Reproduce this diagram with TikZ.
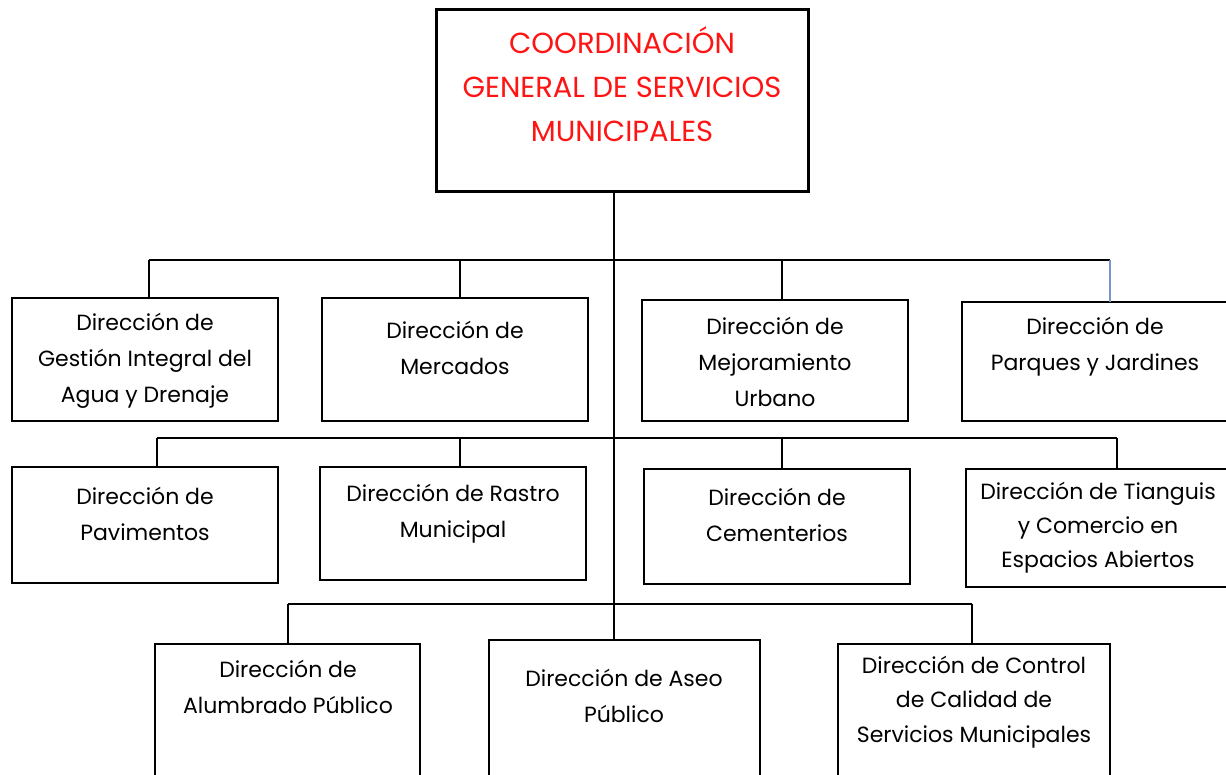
\documentclass[tikz,border=0pt]{standalone}
\usepackage{fontspec}
\setmainfont{Poppins}
\definecolor{rojo}{RGB}{255,20,20}
\definecolor{azulado}{RGB}{120,150,205}
\begin{document}
\begin{tikzpicture}[x=1pt, y=-1pt,
		caja/.style={draw, line width=2.6pt, inner sep=0pt, outer sep=0pt, anchor=north west},
		texto/.style={align=center, inner sep=0pt, font=\fontsize{22}{36}\selectfont},
		enlace/.style={line width=1.1pt}]
			
			\useasboundingbox (0,0) rectangle (1226,775);
			\clip (0,0) rectangle (1226,775);
			
			% coordinacion
			\node[caja, line width=3pt, minimum width=372pt, minimum height=182pt] (coord) at (436,10) {};
			\node[texto, text=rojo, font=\fontsize{29}{44}\selectfont] (coordt) at (622,84.5) {COORDINACIÓN\\GENERAL DE SERVICIOS\\MUNICIPALES};
			
			% primera fila
			\node[caja, minimum width=266pt, minimum height=123pt] (agua) at (12,298) {};
			\node[caja, minimum width=266pt, minimum height=123pt] (mercados) at (322,298) {};
			\node[caja, minimum width=266pt, minimum height=121pt] (mejora) at (642,300) {};
			\node[caja, minimum width=270pt, minimum height=119pt] (parques) at (962,302) {};
			\node[texto] (aguat) at (145,361) {Dirección de\\Gestión Integral del\\Agua y Drenaje};
			\node[texto] (mercadost) at (455,348) {Dirección de\\Mercados};
			\node[texto] (mejorat) at (775,362) {Dirección de\\Mejoramiento\\Urbano};
			\node[texto] (parquest) at (1095,347) {Dirección de\\Parques y Jardines};
			
			% segunda fila
			\node[caja, minimum width=266pt, minimum height=116pt] (pavim) at (12,467) {};
			\node[caja, minimum width=266pt, minimum height=113pt] (rastro) at (320,467) {};
			\node[caja, minimum width=266pt, minimum height=115pt] (cement) at (644,469) {};
			\node[caja, minimum width=266pt, minimum height=118pt] (tiang) at (966,469) {};
			\node[texto] (pavimt) at (145,514) {Dirección de\\Pavimentos};
			\node[texto] (rastrot) at (453,513.5) {Dirección de Rastro\\Municipal};
			\node[texto] (cementt) at (777,515) {Dirección de\\Cementerios};
			\node[texto, font=\fontsize{22}{34}\selectfont] (tiangt) at (1098,528) {Dirección de Tianguis\\y Comercio en\\Espacios Abiertos};
			
			% tercera fila
			\node[caja, minimum width=265pt, minimum height=150pt] (alumb) at (155,644) {};
			\node[caja, minimum width=271pt, minimum height=150pt] (aseo) at (489,640) {};
			\node[caja, minimum width=272pt, minimum height=150pt] (control) at (838,644) {};
			\node[texto] (alumbt) at (288,687) {Dirección de\\Alumbrado Público};
			\node[texto] (aseot) at (624,696) {Dirección de Aseo\\Público};
			\node[texto, font=\fontsize{22}{34.5}\selectfont] (controlt) at (974,702) {Dirección de Control\\de Calidad de\\Servicios Municipales};
			
			% lineas
			\coordinate (r1a) at (149,260);
			\coordinate (r1b) at (460,260);
			\coordinate (r1c) at (782,260);
			\coordinate (r1d) at (1110,260);
			\coordinate (r2a) at (157,438);
			\coordinate (r2b) at (460,438);
			\coordinate (r2c) at (782,438);
			\coordinate (r2d) at (1117,438);
			\coordinate (r3a) at (288,604);
			\coordinate (r3b) at (614,604);
			\coordinate (r3c) at (972,604);
			
			\draw[enlace] (coord.south -| r3b) -- (aseo.north -| r3b);
			\draw[enlace] (r1a) -- (r1d);
			\draw[enlace] (r1a) -- (r1a |- agua.north);
			\draw[enlace] (r1b) -- (r1b |- mercados.north);
			\draw[enlace] (r1c) -- (r1c |- mejora.north);
			\draw[enlace, azulado] (r1d) -- (r1d |- parques.north);
			\draw[enlace] (r2a) -- (r2d);
			\draw[enlace] (r2a) -- (r2a |- pavim.north);
			\draw[enlace] (r2b) -- (r2b |- rastro.north);
			\draw[enlace] (r2c) -- (r2c |- cement.north);
			\draw[enlace] (r2d) -- (r2d |- tiang.north);
			\draw[enlace] (r3a) -- (r3c);
			\draw[enlace] (r3a) -- (r3a |- alumb.north);
			\draw[enlace] (r3c) -- (r3c |- control.north);
			
		\end{tikzpicture}
\end{document}
